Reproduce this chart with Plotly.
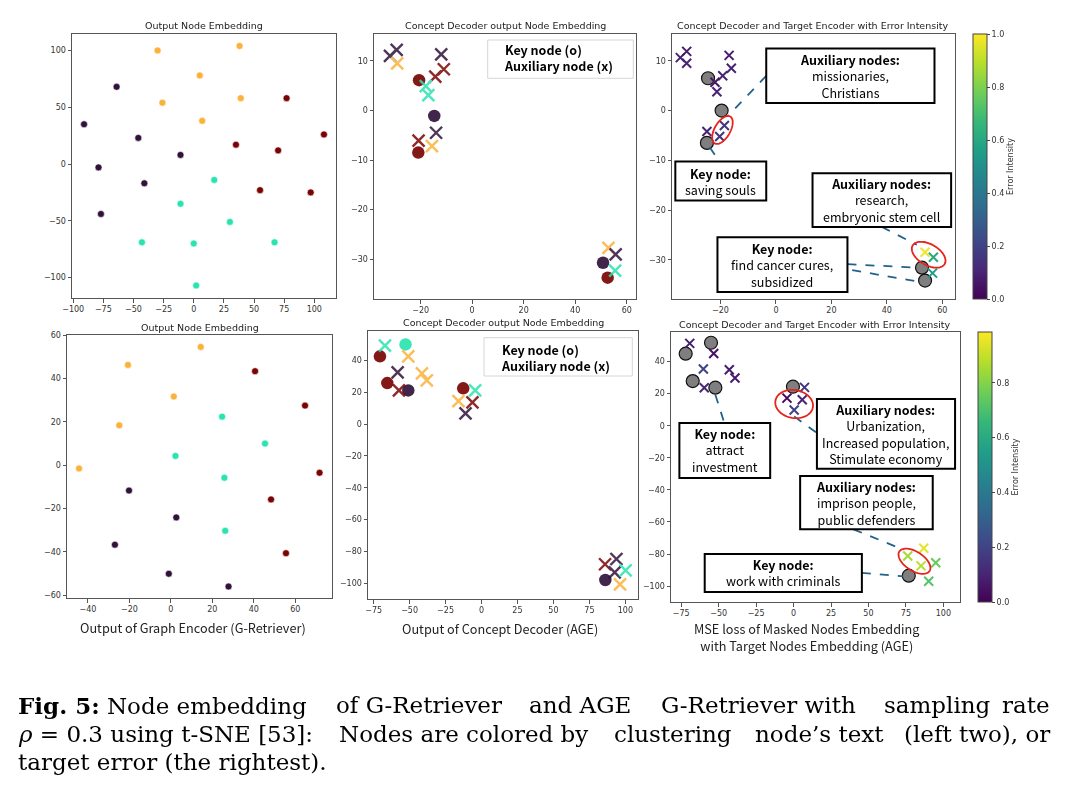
import math
import plotly.graph_objects as go

W, H = 1068, 801

# ---------------- data ----------------
CLUSTER_COLORS = ["#30123B", "#2BE3B0", "#FBB23A", "#7A0403"]  # purple, teal, orange, dark red

# top-left: Output Node Embedding (cluster index per point)
tl_x = [-30, 38, 5, -26, 39, 7,
        -64, -91, -46, -11, -79, -41, -77,
        77, 108, 35, 70, 55, 97,
        17, -11, 30, -43, 0, 67, 2]
tl_y = [100, 104, 78, 54, 58, 38,
        68, 35, 23, 8, -3, -17, -44,
        58, 26, 17, 12, -23, -25,
        -14, -35, -51, -69, -70, -69, -107]
tl_c = [2] * 6 + [0] * 7 + [3] * 6 + [1] * 7

# bottom-left: Output Node Embedding
bl_x = [14.4, -20.7, 1.4, -24.9, -44.3,
        40.6, 64.7, 71.7, 48.3, 55.5,
        24.7, 45.4, 2.2, 25.8, 26.2,
        -20.2, 2.6, -27, -1, 27.8]
bl_y = [54.6, 46.3, 31.7, 18.4, -1.5,
        43.4, 27.5, -3.5, -15.8, -40.6,
        22.4, 10, 4.3, -5.8, -30.3,
        -11.7, -24.1, -36.7, -50.1, -56]
bl_c = [2] * 5 + [3] * 5 + [1] * 5 + [0] * 5

# top-middle: Concept Decoder output (key nodes = o, auxiliary = x)
tm_key_x = [-20.6, -14.7, -20.9, 50.8, 52.6]
tm_key_y = [6.1, -1.1, -8.5, -30.7, -33.7]
tm_key_c = [3, 0, 3, 0, 3]
tm_aux_x = [-31.9, -29.3, -29.1, -12.0, -11.0, -14.3, -18.0, -17.0, -14.0, -20.8, -15.6, 52.9, 55.7, 55.5]
tm_aux_y = [11.0, 12.2, 9.5, 11.3, 8.3, 6.8, 4.9, 3.1, -4.5, -6.1, -7.2, -27.7, -29.0, -32.3]
tm_aux_c = [0, 0, 2, 0, 3, 3, 1, 1, 0, 3, 2, 2, 0, 1]

# bottom-middle
bm_key_x = [-52.8, -70.6, -65.5, -50.9, -12.7, 86.1]
bm_key_y = [50.0, 42.5, 25.7, 21.1, 22.4, -97.9]
bm_key_c = [1, 3, 3, 0, 3, 0]
bm_aux_x = [-67.1, -50.9, -58.3, -41.4, -38.0, -57.4, -4.4, -16.0, -6.3, -11.1, 85.9, 93.8, 92.6, 100.2, 96.3]
bm_aux_y = [49.2, 42.5, 32.4, 31.8, 27.4, 21.1, 21.1, 14.4, 13.6, 6.7, -88.0, -84.7, -93.1, -91.8, -100.6]
bm_aux_c = [1, 2, 0, 2, 2, 3, 1, 2, 3, 0, 3, 0, 0, 1, 2]

# top-right: error intensity
tr_key_x = [-24.5, -19.6, -24.9, 52.7, 53.8]
tr_key_y = [6.5, 0.0, -6.5, -31.6, -34.2]
tr_aux_x = [-34.5, -32.2, -32.2, -16.9, -16.1, -19.2, -22.0, -21.3, -18.6, -20.3, -24.9, 53.8, 56.8, 56.5]
tr_aux_y = [10.65, 11.9, 9.5, 11.1, 8.5, 7.0, 5.7, 3.8, -3.0, -5.2, -4.2, -28.5, -29.5, -32.7]
tr_aux_err = [0.10, 0.08, 0.10, 0.08, 0.10, 0.10, 0.06, 0.10, 0.16, 0.15, 0.10, 0.98, 0.60, 0.55]

# bottom-right: error intensity
br_key_x = [-55.1, -72.0, -67.3, -52.2, -0.4, 76.9]
br_key_y = [51.7, 44.9, 27.8, 23.7, 24.3, -93.5]
br_aux_x = [-69.3, -53.3, -60.2, -42.9, -39.1, -59.6, 7.3, -4.4, 5.8, 0.4, 86.9, 76.2, 85.1, 94.9, 90.2]
br_aux_y = [51.3, 45.0, 35.3, 34.9, 29.7, 23.7, 23.9, 17.2, 16.2, 9.8, -76.4, -81.2, -87.4, -85.4, -97.0]
br_aux_err = [0.08, 0.05, 0.20, 0.08, 0.07, 0.10, 0.15, 0.02, 0.10, 0.20, 0.95, 0.85, 0.88, 0.75, 0.72]

# ---------------- layout helpers ----------------
def px(x):
    return x / W

def py(y):
    return 1 - y / H

# panel geometry in pixels and data ranges
PANELS = {
    "tl": dict(n=1, x=(72, 336), y=(34, 298), xr=(-101, 118), yr=(-118, 114.5),
               xt=[-100, -75, -50, -25, 0, 25, 50, 75, 100], yt=[-100, -50, 0, 50, 100]),
    "tm": dict(n=2, x=(374, 636), y=(34, 299), xr=(-38.1, 63.6), yr=(-38.0, 15.4),
               xt=[-20, 0, 20, 40, 60], yt=[-30, -20, -10, 0, 10]),
    "tr": dict(n=3, x=(672, 955), y=(34, 299), xr=(-37.5, 64.6), yr=(-37.9, 15.4),
               xt=[-20, 0, 20, 40, 60], yt=[-30, -20, -10, 0, 10]),
    "bl": dict(n=4, x=(67, 332), y=(335, 598), xr=(-50.1, 77.7), yr=(-61.3, 60.1),
               xt=[-40, -20, 0, 20, 40, 60], yt=[-60, -40, -20, 0, 20, 40, 60]),
    "bm": dict(n=5, x=(368, 638), y=(331, 599), xr=(-78.9, 108.8), yr=(-109.8, 58.4),
               xt=[-75, -50, -25, 0, 25, 50, 75, 100], yt=[-100, -80, -60, -40, -20, 0, 20, 40]),
    "br": dict(n=6, x=(671, 960), y=(332, 602), xr=(-81.8, 111.1), yr=(-109.9, 58.4),
               xt=[-75, -50, -25, 0, 25, 50, 75, 100], yt=[-100, -80, -60, -40, -20, 0, 20, 40]),
}

TICKFONT = dict(family="DejaVu Sans", size=8, color="#333333")
AXCOL = "#555555"

fig = go.Figure()
layout = dict(width=W, height=H, margin=dict(l=0, r=0, t=0, b=0, autoexpand=False),
              paper_bgcolor="white", plot_bgcolor="white", showlegend=False)

def ax_names(p):
    n = PANELS[p]["n"]
    return ("x" if n == 1 else f"x{n}"), ("y" if n == 1 else f"y{n}")

for key, p in PANELS.items():
    n = p["n"]
    xa = "xaxis" if n == 1 else f"xaxis{n}"
    ya = "yaxis" if n == 1 else f"yaxis{n}"
    xn, yn = ax_names(key)
    common = dict(showline=True, mirror=True, linecolor=AXCOL, linewidth=1,
                  ticks="outside", ticklen=3.5, tickcolor=AXCOL, tickwidth=1, automargin=False,
                  showgrid=False, zeroline=False, tickfont=TICKFONT, tickmode="array")
    layout[xa] = dict(domain=[px(p["x"][0]), px(p["x"][1])], range=list(p["xr"]),
                      tickvals=p["xt"], anchor=yn, **common)
    layout[ya] = dict(domain=[py(p["y"][1]), py(p["y"][0])], range=list(p["yr"]),
                      tickvals=p["yt"], anchor=xn, **common)

fig.update_layout(**layout)

def add(trace, p):
    xn, yn = ax_names(p)
    trace.update(xaxis=xn, yaxis=yn)
    fig.add_trace(trace)

# ---- left panels ----
add(go.Scatter(x=tl_x, y=tl_y, mode="markers",
               marker=dict(size=7, color=[CLUSTER_COLORS[c] for c in tl_c],
                           line=dict(color="white", width=0.6))), "tl")
add(go.Scatter(x=bl_x, y=bl_y, mode="markers",
               marker=dict(size=7, color=[CLUSTER_COLORS[c] for c in bl_c],
                           line=dict(color="white", width=0.6))), "bl")

# ---- middle panels ----
for p, kx, ky, kc, axx, axy, axc in [
        ("tm", tm_key_x, tm_key_y, tm_key_c, tm_aux_x, tm_aux_y, tm_aux_c),
        ("bm", bm_key_x, bm_key_y, bm_key_c, bm_aux_x, bm_aux_y, bm_aux_c)]:
    add(go.Scatter(x=kx, y=ky, mode="markers", opacity=0.92,
                   marker=dict(size=12.5, color=[CLUSTER_COLORS[c] for c in kc], line=dict(width=0))), p)
    cols = [CLUSTER_COLORS[c] for c in axc]
    add(go.Scatter(x=axx, y=axy, mode="markers", opacity=0.85,
                   marker=dict(symbol="x-thin", size=12, color=cols,
                               line=dict(width=2.4, color=cols))), p)

# ---- right panels ----
def cbar(xpx, y0, y1, tickvals):
    return dict(x=px(xpx), xanchor="left", xpad=0, ypad=0,
                y=py((y0 + y1) / 2), yanchor="middle", len=(y1 - y0) / H, lenmode="fraction",
                thickness=14, thicknessmode="pixels", outlinewidth=1, outlinecolor="#444444",
                ticks="outside", ticklen=3, tickcolor="#444444", tickmode="array",
                tickvals=tickvals, tickformat=".1f", tickfont=TICKFONT,
                title=dict(text="Error Intensity", side="right",
                           font=dict(family="DejaVu Sans", size=8, color="#333333")))

for p, kx, ky, axx, axy, err, cmax, cb in [
        ("tr", tr_key_x, tr_key_y, tr_aux_x, tr_aux_y, tr_aux_err, 1.0,
         cbar(973, 34, 299, [0, 0.2, 0.4, 0.6, 0.8, 1.0])),
        ("br", br_key_x, br_key_y, br_aux_x, br_aux_y, br_aux_err, 0.985,
         cbar(978, 332, 602, [0, 0.2, 0.4, 0.6, 0.8]))]:
    add(go.Scatter(x=kx, y=ky, mode="markers",
                   marker=dict(size=13, color="rgba(120,120,120,0.95)",
                               line=dict(color="#111111", width=1.2))), p)
    add(go.Scatter(x=axx, y=axy, mode="markers",
                   marker=dict(symbol="x-thin", size=9, color=err, colorscale="Viridis",
                               cmin=0, cmax=cmax, showscale=True, colorbar=cb,
                               line=dict(width=2, color=err, colorscale="Viridis",
                                         cmin=0, cmax=cmax))), p)

# ---------------- annotations / shapes ----------------
shapes = []
annots = []

def title(text, cx, cy):
    annots.append(dict(text=text, x=px(cx), y=py(cy), xref="paper", yref="paper",
                       showarrow=False, xanchor="center", yanchor="middle",
                       font=dict(family="DejaVu Sans", size=9.5, color="#222222")))

title("Output Node Embedding", 204, 26)
title("Concept Decoder output Node Embedding", 505, 26)
title("Concept Decoder and Target Encoder with Error Intensity", 813, 26)
title("Output Node Embedding", 199.5, 327)
title("Concept Decoder output Node Embedding", 503, 322)
title("Concept Decoder and Target Encoder with Error Intensity", 815, 324)

JP = "Noto Sans CJK JP"

# axis titles (bottom row)
for text, cx, cy in [("Output of Graph Encoder (G-Retriever)", 193, 627),
                     ("Output of Concept Decoder (AGE)", 500, 628),
                     ("MSE loss of Masked Nodes Embedding<br>with Target Nodes Embedding (AGE)", 806, 637)]:
    annots.append(dict(text=text, x=px(cx), y=py(cy), xref="paper", yref="paper",
                       showarrow=False, xanchor="center", yanchor="middle", align="center",
                       font=dict(family=JP, size=12.7, color="#222222")))

# legend boxes of the middle panels
for (x0, y0, x1, y1), tx, ty in [((487.7, 40, 633.3, 78.3), 502, 58),
                                 ((484, 337.7, 632.3, 376), 499, 357.5)]:
    shapes.append(dict(type="rect", xref="paper", yref="paper",
                       x0=px(x0), x1=px(x1), y0=py(y1), y1=py(y0),
                       line=dict(color="#d6d6d6", width=1), fillcolor="rgba(255,255,255,0.8)"))
    annots.append(dict(text="<b>Key node (o)</b><br><b>Auxiliary node (x)</b>",
                       x=px(tx), y=py(ty), xref="paper", yref="paper",
                       showarrow=False, xanchor="left", yanchor="middle", align="left",
                       font=dict(family=JP, size=12.5, color="black")))

DASH = "#21628A"

def dline(p, x0, y0, x1, y1):
    xn, yn = ax_names(p)
    shapes.append(dict(type="line", xref=xn, yref=yn, x0=x0, y0=y0, x1=x1, y1=y1,
                       line=dict(color=DASH, width=1.8, dash="dash")))

def tbox(p, x0, x1, y0, y1, head, lines):
    xn, yn = ax_names(p)
    shapes.append(dict(type="rect", xref=xn, yref=yn, x0=x0, x1=x1, y0=y0, y1=y1,
                       line=dict(color="black", width=2), fillcolor="white"))
    annots.append(dict(text="<b>" + head + "</b><br>" + "<br>".join(lines),
                       x=(x0 + x1) / 2, y=(y0 + y1) / 2, xref=xn, yref=yn,
                       showarrow=False, xanchor="center", yanchor="middle", align="center",
                       font=dict(family=JP, size=12.5, color="black")))

def ellipse(p, cx, cy, a, b, ang):
    P = PANELS[p]
    sx = (P["x"][1] - P["x"][0]) / (P["xr"][1] - P["xr"][0])
    sy = (P["y"][1] - P["y"][0]) / (P["yr"][1] - P["yr"][0])
    th = math.radians(ang)
    pts = []
    for i in range(73):
        t = 2 * math.pi * i / 72
        dx = a * math.cos(t) * math.cos(th) - b * math.sin(t) * math.sin(th)
        dy = a * math.cos(t) * math.sin(th) + b * math.sin(t) * math.cos(th)
        pts.append((cx + dx / sx, cy + dy / sy))
    path = "M " + " L ".join(f"{x:.4f},{y:.4f}" for x, y in pts) + " Z"
    xn, yn = ax_names(p)
    shapes.append(dict(type="path", xref=xn, yref=yn, path=path,
                       line=dict(color="#E8231B", width=1.8)))

# top-right callouts
dline("tr", -3.5, 7.0, -17.0, -0.9)
dline("tr", -23.9, -7.4, -20.4, -10.25)
dline("tr", 38.2, -23.4, 50.8, -27.0)
dline("tr", 25.8, -30.9, 51.3, -31.6)
dline("tr", 27.5, -32.1, 51.3, -34.4)
tbox("tr", -3.5, 57.2, 1.5, 12.5, "Auxiliary nodes:", ["missionaries,", "Christians"])
tbox("tr", -36.3, -3.5, -18.1, -10.25, "Key node:", ["saving souls"])
tbox("tr", 13.2, 63.2, -23.4, -12.6, "Auxiliary nodes:", ["research,", "embryonic stem cell"])
tbox("tr", -21.1, 25.8, -36.5, -25.5, "Key node:", ["find cancer cures,", "subsidized"])
ellipse("tr", -19.3, -3.9, 15.5, 7.8, 60)
ellipse("tr", 55.1, -29.0, 18.5, 10.5, -30)

# bottom-right callouts
dline("br", -52.2, 19.3, -46.2, 1.7)
dline("br", 0.4, 5.8, 15.6, -4.6)
dline("br", 40.0, -64.6, 73.3, -77.3)
dline("br", 45.6, -91.8, 73.3, -93.9)
tbox("br", -76.2, -15.6, -32.6, 1.7, "Key node:", ["attract", "investment"])
tbox("br", 15.6, 107.8, -26.8, 16.6, "Auxiliary nodes:",
     ["Urbanization,", "Increased population,", "Stimulate economy"])
tbox("br", 4.4, 92.9, -64.6, -31.4, "Auxiliary nodes:", ["imprison people,", "public defenders"])
tbox("br", -59.3, 45.6, -103.6, -80.0, "Key node:", ["work with criminals"])
ellipse("br", 0.4, 13.5, 19.0, 14.0, -10)
ellipse("br", 80.7, -84.5, 18.0, 9.5, -33)

# caption (approximate justification with word groups)
SERIF = "DejaVu Serif"
cap = [
    (705, [("<b>Fig. 5:</b> Node embedding", 16, "left"), ("of G-Retriever", 334, "left"),
           ("and AGE", 527, "left"), ("G-Retriever with", 659, "left"),
           ("sampling", 882, "left"), ("rate", 1052, "right")]),
    (734, [("<i>ρ</i> = 0.3 using t-SNE [53]:", 16, "left"), ("Nodes are colored by", 337, "left"),
           ("clustering", 612, "left"), ("node’s text", 753, "left"),
           ("(left two), or", 1052, "right")]),
    (762, [("target error (the rightest).", 16, "left")]),
]
for cy, parts in cap:
    for text, cx, anc in parts:
        annots.append(dict(text=text, x=px(cx), y=py(cy), xref="paper", yref="paper",
                           showarrow=False, xanchor=anc, yanchor="middle",
                           font=dict(family=SERIF, size=23, color="black")))

fig.update_layout(shapes=shapes, annotations=annots)
fig.write_html("out.html")
